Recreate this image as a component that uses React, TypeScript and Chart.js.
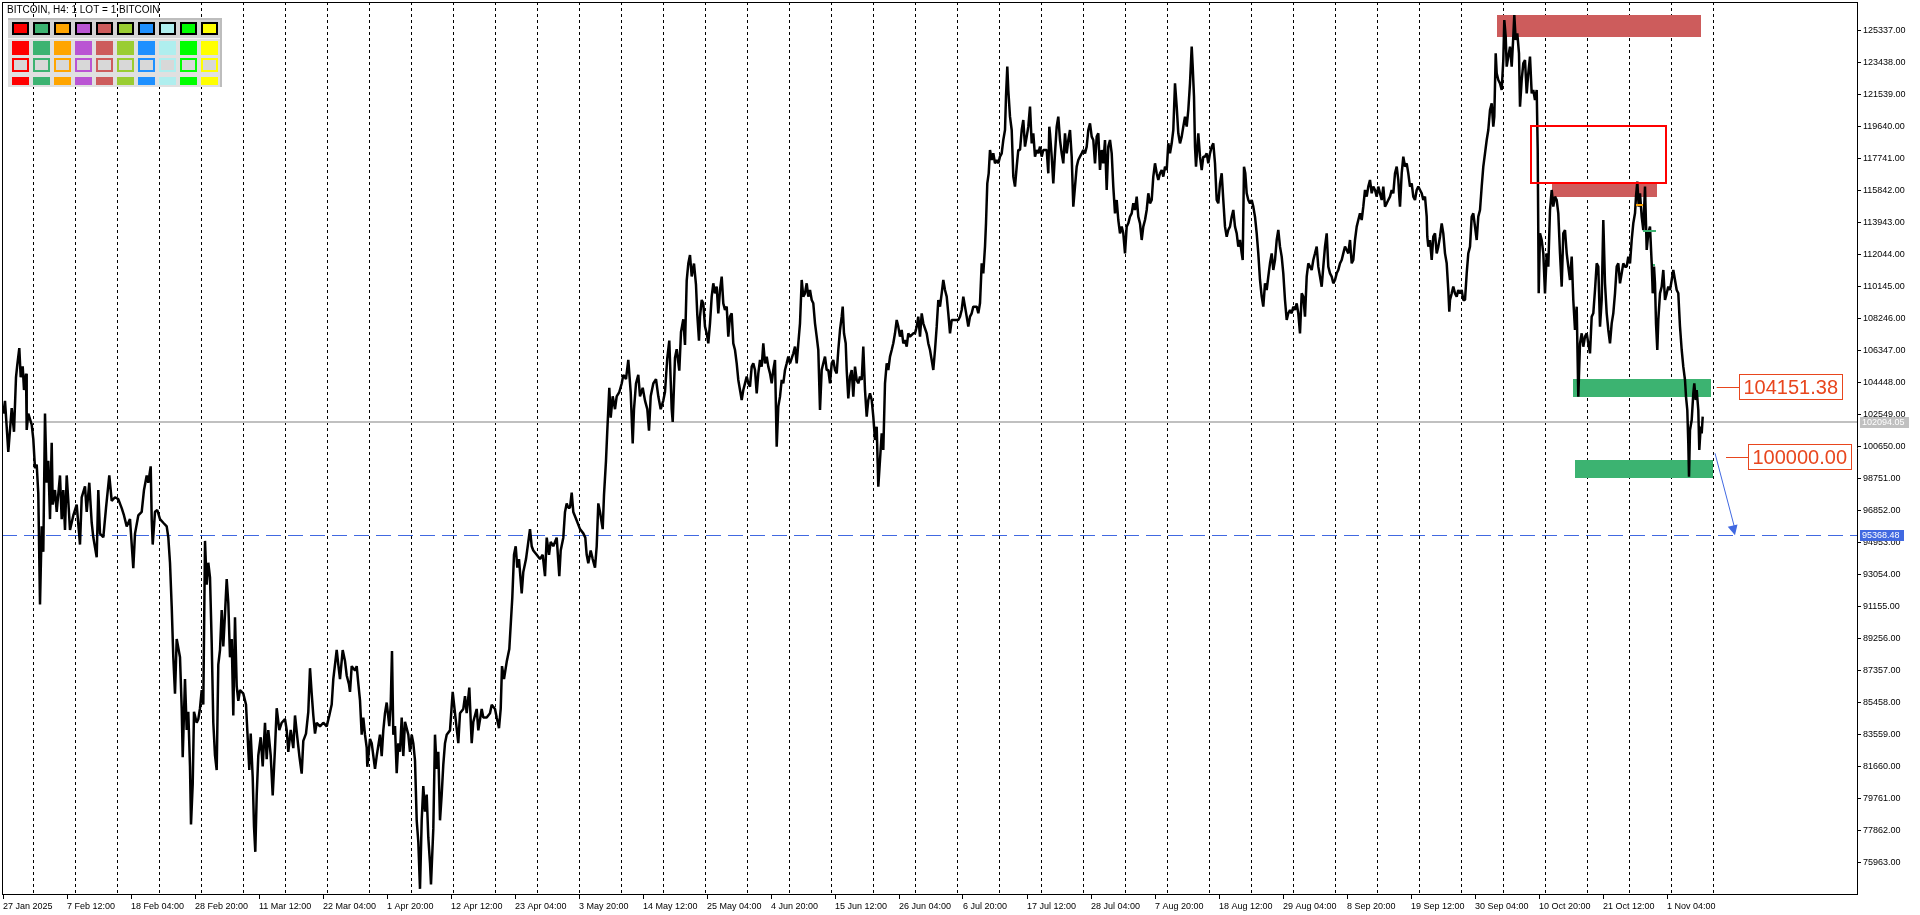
import React, { useEffect, useRef } from 'react';
import { Chart, registerables } from 'chart.js';

Chart.register(...registerables);

// ---- Axis data ----
const xTickBars = [0, 64, 128, 192, 256, 320, 384, 448, 512, 576, 640, 704, 768, 832, 896, 960, 1024, 1088, 1152, 1216, 1280, 1344, 1408, 1472, 1536, 1600, 1664];
const xTickLabels = ['27 Jan 2025', '7 Feb 12:00', '18 Feb 04:00', '28 Feb 20:00', '11 Mar 12:00', '22 Mar 04:00', '1 Apr 20:00', '12 Apr 12:00', '23 Apr 04:00', '3 May 20:00', '14 May 12:00', '25 May 04:00', '4 Jun 20:00', '15 Jun 12:00', '26 Jun 04:00', '6 Jul 20:00', '17 Jul 12:00', '28 Jul 04:00', '7 Aug 20:00', '18 Aug 12:00', '29 Aug 04:00', '8 Sep 20:00', '19 Sep 12:00', '30 Sep 04:00', '10 Oct 20:00', '21 Oct 12:00', '1 Nov 04:00'];
const yTicks = [75963, 77862, 79761, 81660, 83559, 85458, 87357, 89256, 91155, 93054, 94953, 96852, 98751, 100650, 102549, 104448, 106347, 108246, 110145, 112044, 113943, 115842, 117741, 119640, 121539, 123438, 125337];
const weekSeparators = [30.7, 72.7, 114.7, 156.7, 198.7, 240.7, 282.7, 324.7, 366.7, 408.7, 450.7, 492.7, 534.7, 576.7, 618.7, 660.7, 702.7, 744.7, 786.7, 828.7, 870.7, 912.7, 954.7, 996.7, 1038.7, 1080.7, 1122.7, 1164.7, 1206.7, 1248.7, 1290.7, 1332.7, 1374.7, 1416.7, 1458.7, 1500.7, 1542.7, 1584.7, 1626.7, 1668.7, 1710.7];
const xRange = [-1, 1854];
const yRange = [74082, 127016];

// ---- Price path (bar index, price) ----
const pathJanMar: [number, number][] = [[0.3,102589],[2,103344],[5.3,100323],[8.7,102913],[11,101510],[13,104747],[14.3,105502],[16.3,106473],[17.7,104747],[19.7,105394],[21,103991],[23,104962],[23.7,101618],[25.3,102589],[28.7,101941],[30.3,101078],[32,99352],[33.7,99567],[35.3,97841],[37,91259],[38.7,95899],[40.3,94388],[42,102589],[43.7,98488],[45.3,99783],[47,96330],[48.7,100862],[49.7,97194],[52,98057],[53.7,96762],[57,98920],[58.7,96330],[60.3,98057],[62,95683],[63.7,98920],[65.3,97410],[67,95683],[70.3,96546],[73.7,97194],[77,94820],[78.7,97625],[82,98273],[83.7,96762],[86.3,98488],[88.7,96114],[90.3,95251],[93.7,94065],[95.3,98057],[97,95467],[100.3,95251],[103,96978],[106.3,98920],[108.7,97410],[112,97625],[115.3,97517],[118.7,96978],[121,96546],[123.7,95899],[127,96330],[130.3,93417],[132,95467],[135.3,96546],[138.7,96762],[141,98057],[143.7,98920],[145.3,98488],[147.7,99460],[148.7,96330],[149.7,94820],[152,96762],[154.3,96870],[157,96330],[160.3,96114],[163.7,95899],[165.3,95251],[167,93741],[168.7,91151],[170.3,88130],[172,85972],[173.7,89209],[177,88130],[178.7,85109],[179.7,82196],[182,86835],[183.7,83814],[185.3,84893],[187,81656],[188,78203],[189.7,80577],[191,84893],[193.7,84246],[195.3,84461],[197,85109],[198.7,86188],[200.3,85325],[202,95036],[203.7,92446],[205.3,93741],[207,92877],[208.7,88993],[210.3,84246],[212,82303],[213.7,81440],[215.3,87698],[217,88562],[218.7,90935],[220.3,88777],[222,90720],[223.7,92769],[225.3,91366],[227,88130],[228.7,89209],[230.3,84677],[232,90504],[233.7,86404],[235.3,85540],[237,86188],[240.3,85972],[243,85325],[244.3,83814],[246.3,81440],[247.7,83598],[249.7,81008],[251,78095],[252.3,76584],[253.7,79929],[255.3,82303],[257.7,83382],[259.7,81656],[262,84246],[263.7,82087],[265.3,83814],[267.7,82303],[269.7,79929],[272,82735],[273.7,85109],[276.3,83814],[278.7,84246],[282,84461],[283.7,83814],[285.3,82519],[287.7,83814],[290.3,82735],[292,84677],[294.3,83382],[296.3,82303],[298.7,81224],[300.3,83166],[303,83598],[305.3,84893],[307,87483],[308.7,85972],[310.3,84677],[312,83598],[313.7,84246],[317,84030],[320.3,84246],[323.7,84030],[326.3,84677],[328.7,85325],[330.3,86835],[333.7,88562],[335.3,87698],[337,86835],[339.7,88562],[342,87914],[343.7,87051],[346,86511]];

const pathMarJun: [number, number][] = [[347,86079],[348.7,87604],[352,87350],[353.7,87604],[355.3,86588],[357,85571],[358.7,83538],[360.3,84555],[362,83538],[363.7,82775],[364.3,81632],[367,83284],[368.7,83030],[372,81505],[373.7,82267],[377,83538],[378.7,82267],[380.3,83792],[382,84809],[383.7,85444],[386.3,84046],[387.7,85317],[389,88494],[390.3,83538],[392,84046],[393.7,81250],[395.3,83030],[397,82521],[398.7,84555],[400.3,82267],[402,84300],[405.3,83538],[407,82521],[408.7,83538],[410.3,83030],[412,82013],[413.7,78455],[415.3,77184],[417,74388],[418.7,78455],[420.3,80488],[422,78963],[423.7,79980],[425.3,77438],[427,75913],[428,74643],[430.3,77946],[432,83538],[433.7,81505],[435.3,82521],[437,78455],[438.7,79980],[440.3,81759],[442,83030],[443.7,83538],[447,83792],[449.7,86079],[452,84809],[455.3,83030],[457,84809],[460.3,85063],[462,85825],[463.7,84809],[466.3,86333],[468.7,83030],[470.3,84300],[473.7,85063],[475.3,83792],[478.7,85063],[480.3,84555],[483.7,84555],[487,84809],[488.7,85317],[492,85063],[493.7,84555],[496,83919],[497.7,85063],[499,87604],[501,86842],[503.7,87858],[506.3,88621],[508.3,90654],[509.3,91671],[511,94212],[512.7,94720],[514.3,93450],[516,93958],[518.7,91925],[520.3,93195],[523,93958],[525.3,94975],[527,95737],[528.7,94720],[530.3,94466],[533.7,94212],[537,93958],[539.7,94212],[542,92941],[543.7,95229],[546,94212],[547.7,94975],[550.3,94720],[553.7,95229],[556.3,92941],[557.7,94466],[560.3,95229],[562,96754],[563.7,97262],[565.3,97008],[567,97008],[568.7,97897],[570.3,96754],[573.7,96245],[577,95737],[580.3,95483],[582.3,95229],[583.7,94212],[585.3,93704],[587.7,94466],[589.7,93958],[592,93450],[593.7,94720],[595.3,97262],[597,96754],[599.7,95737],[601,97770],[603,99803],[604.3,101582],[606.3,104124],[607.7,102345],[609.7,103616],[612,102853],[613.7,103616],[616.3,103870],[618.7,104378],[620.3,104886],[623,104632],[625.3,105776],[627.7,103870],[629.7,100820],[631,102853],[633,104378],[635.3,104886],[637,103616],[639.7,104124],[642,103361],[644.3,102853],[646,101582],[647.7,103616],[650.3,104378],[653,104632],[655.3,103616],[657.7,102853],[660.3,103361],[662,103870],[664.3,105903],[666.3,106920],[668.7,102853],[669.7,102091],[672,105903],[673.7,106411],[676.3,105141],[678,107428],[680.3,108190],[682,106665],[683.7,110478],[685.3,111495],[687,112003],[688.7,110731],[691,111495],[693,110224],[694.3,108444],[696,106920]];

const pathJunAug: [number, number][] = [[697,108343],[698.7,109332],[700.3,109134],[702,107750],[703.7,107354],[705.3,106761],[707,107948],[708.7,109530],[710.3,110321],[712,109728],[713.7,110124],[715.3,108541],[717,109926],[718.7,110717],[720.3,109134],[722,108739],[723.7,108937],[725.3,107156],[727,108343],[728.7,108541],[730.3,106761],[732,106365],[733.7,105574],[735.3,104585],[737,103992],[738.7,103398],[740.3,103992],[742,104387],[743.7,104783],[745.3,104387],[747,104189],[748.7,105376],[750.3,105574],[752,105178],[753.7,103794],[755.3,104980],[757,105772],[758.7,105376],[760.3,106761],[762,105574],[763.7,105970],[765.3,105376],[767,104980],[768.7,104387],[770.3,105178],[772,105772],[773.7,100629],[775.3,103002],[777,103596],[778.7,104585],[780.3,104387],[782,105178],[783.7,105574],[785.3,105970],[787,105574],[790.3,106167],[792,106563],[793.7,105574],[795.3,106761],[797,107948],[798.7,110519],[800.3,109530],[802,109728],[803.7,110321],[805.3,109530],[807,109926],[808.7,109332],[810.3,109134],[812,107948],[813.7,107156],[815.3,106365],[817,102804],[818.7,105178],[820.3,105574],[822,105970],[823.7,105178],[825.3,105178],[827,104387],[828.7,105574],[830.3,105772],[832,105178],[833.7,104980],[835.3,106365],[837,107552],[838.7,108343],[839.7,108937],[841,107354],[842.7,106761],[843.7,105178],[845.3,103497],[847,104783],[848.7,105178],[850.3,103596],[852,105376],[853.7,104585],[855.3,104387],[857,104783],[858.7,104585],[860.3,106563],[862,103992],[863.7,102409],[865.3,103398],[867,103794],[868.7,103398],[870.3,102409],[872,101024],[873.7,101815],[875.3,98255],[877,99838],[878.7,101420],[880.3,100431],[882,104387],[883.7,105574],[885.3,105178],[887,105970],[888.7,106365],[890.3,106761],[892,107354],[893.7,108145],[895.3,107750],[897,107156],[898.7,107552],[900.3,106761],[902,106959],[903.7,106563],[905.3,107354],[907,107156],[910.3,107354],[912,107354],[913.7,107750],[915.3,108343],[917,107156],[918.7,108541],[920.3,107948],[923.7,107354],[925.3,106761],[927,106365],[928.7,105772],[930.3,105178],[932,106365],[933.7,107750],[935.3,109332],[937,108937],[938.7,109728],[940.3,110519],[942,109926],[943.7,109530],[945.3,108541],[947,107354],[948.7,108145],[952,108145],[955.3,108145],[957,108343],[958.7,108739],[960.3,109530],[962,108937],[963.7,108343],[965.3,107750],[967,108343],[968.7,108541],[970.3,108937],[973.7,108937],[975.3,108541],[977,109134],[978.7,111508],[980.3,110915],[982,112497],[983,113882],[984.3,116256],[985.7,116849],[987,118234],[988.7,117640],[990.3,118036],[992,117442],[993.7,117640],[995.3,117442],[997,117838],[998.7,118036],[1000.3,118827],[1002,119421],[1003,121399],[1004.3,123179],[1005.3,121794],[1007,120212],[1008.7,119421],[1010.3,116651],[1012,116058],[1013.7,117245],[1015.3,118234],[1017,118234],[1018.7,119421],[1020.3,120014],[1022,118433],[1023.7,119025],[1025.3,119618],[1027,120805],[1028.7,118629],[1030.3,119223],[1032,117838],[1033.7,118234],[1035.3,118036],[1037,118433],[1038.7,117838],[1040.3,118234],[1043.7,118234],[1045.3,116849],[1046.3,119618]];

const pathAugOct: [number, number][] = [[1047,119223],[1048.7,117838],[1050.3,116255],[1052,118036],[1053.7,119618],[1055.3,120212],[1057,118827],[1058.7,118036],[1060.3,117442],[1062,119223],[1063.7,118036],[1065.3,118827],[1067,119420],[1068.7,117838],[1070.3,114871],[1072,116058],[1073.7,117245],[1075.3,117640],[1077,117838],[1078.7,118036],[1080.3,118234],[1082,118036],[1083.7,118431],[1085.3,119420],[1087,119816],[1088.7,119025],[1090.3,118827],[1092,117442],[1093.7,119025],[1095.3,119223],[1097,117047],[1098.7,118234],[1100.3,117442],[1102,118827],[1103.7,115860],[1105.3,118431],[1107,118827],[1108.7,118036],[1110.3,116058],[1112,114475],[1113.7,115266],[1115.3,114080],[1117,113288],[1118.7,113684],[1120.3,113288],[1122,112099],[1123.7,113684],[1125.3,113882],[1127,114277],[1128.7,114475],[1130.3,115069],[1132,114673],[1133.7,115464],[1135.3,114277],[1137,113882],[1138.7,112893],[1140.3,113684],[1142,114080],[1143.7,114673],[1145.3,115662],[1147,115069],[1148.7,115266],[1150.3,116651],[1152,117442],[1153.7,116849],[1155.3,116453],[1157,116849],[1158.7,117047],[1160.3,116651],[1162,117245],[1163.7,117047],[1165.3,118629],[1167,118036],[1168.7,118629],[1170.3,119420],[1172,122190],[1173.7,120805],[1175.3,119223],[1177,118629],[1178.7,119025],[1180.3,119618],[1182,120212],[1183.7,119618],[1185.3,120607],[1187,122190],[1188.7,124366],[1189.7,123179],[1191,121400],[1192,118431],[1193,117245],[1195.3,119223],[1197,117838],[1198.7,117047],[1200.3,117838],[1202,117838],[1203.7,118036],[1205.3,117442],[1207,118036],[1208.7,118431],[1210.3,118629],[1212,117442],[1213.7,115266],[1215.3,115069],[1217,116255],[1218.7,116849],[1220.3,115266],[1222,113684],[1223.7,113090],[1225.3,113486],[1227,113684],[1228.7,114277],[1230.3,114673],[1232,113684],[1233.7,113288],[1235.3,112497],[1237,112893],[1238.7,112099],[1239.7,111706],[1241,117245],[1242.3,116849],[1243.7,115662],[1245.3,115266],[1247,115069],[1248.7,115266],[1250.3,114871],[1252,114277],[1253.7,113288],[1255.3,112099],[1257,110519],[1258.7,109530],[1260.3,108936],[1262,110321],[1263.7,109925],[1265.3,110717],[1267,111508],[1268.7,112099],[1270.3,111113],[1272,111706],[1273.7,112893],[1275.3,113486],[1277,112497],[1278.7,111904],[1280.3,110915],[1282,109332],[1283.7,108145],[1285.3,108541],[1287,108738],[1288.7,108541],[1290.3,108936],[1292,108738],[1293.7,109134],[1295.3,108541],[1297,107354],[1298.7,109728],[1300.3,109530],[1302,108343],[1303.7,110717],[1305.3,111508],[1307,111310],[1308.7,111113],[1310.3,111706],[1312,112099],[1313.7,112497],[1315.3,111310],[1317,110717],[1318.7,110123],[1320.3,111310],[1322,112497],[1323.7,113288],[1325.3,111310],[1327,110915],[1328.7,110717],[1330.3,110321],[1332,110519],[1333.7,110915],[1335.3,111113],[1337,111508],[1338.7,111706],[1340.3,112099],[1342,112497],[1343.7,112299],[1345.3,112099],[1347,112893],[1348.7,111508],[1350.3,111706],[1352,112893],[1353.7,113684],[1355.3,114080],[1357,114475],[1358.7,114080],[1360.3,114871],[1362,115860],[1363.7,115464],[1365.3,116058],[1367,116453],[1368.7,115662],[1370.3,116058],[1372,115860],[1373.7,115464],[1375.3,116058],[1377,115662],[1378.7,115266],[1380.3,116058],[1382,114871],[1383.7,115069],[1385.3,115266],[1387,115464],[1388.7,115860],[1390.3,115662],[1392,116849],[1393.7,117245],[1395.3,116453],[1396.3,115464]];

const pathOctNov: [number, number][] = [[1397,114871],[1398.7,116849],[1400.3,117838],[1402,117245],[1403.7,117442],[1405.3,116849],[1407,116058],[1408.7,116255],[1410.3,115464],[1412,115266],[1413.7,115860],[1415.3,116058],[1417,115860],[1418.7,115662],[1420.3,115266],[1422,115464],[1423.7,114277],[1424.3,113090],[1425.3,112497],[1427,112893],[1428.7,111706],[1430.3,113090],[1432,113288],[1433.7,112101],[1435.3,112497],[1437,113090],[1438.7,113882],[1440.3,113288],[1442,112101],[1443.7,111508],[1445.3,109925],[1446.3,108639],[1447,109332],[1448.7,109728],[1450.3,110123],[1452,109728],[1453.7,109530],[1455.3,109925],[1457,109728],[1458.7,109925],[1460.3,109332],[1462,109332],[1463.7,110915],[1465.3,112101],[1467,112497],[1468.7,114277],[1470.3,114475],[1472,113684],[1473.7,112893],[1475.3,114277],[1477,114673],[1478.7,116058],[1480.3,117245],[1482,118036],[1483.7,118827],[1485.3,119420],[1487,120607],[1488.7,121003],[1490.3,119618],[1491.3,120212],[1492.7,123970],[1493.7,122783],[1495.3,122388],[1497,122190],[1498.7,121794],[1500.3,123574],[1501.3,125948],[1502.7,124959],[1503.7,123179],[1505.3,123772],[1507,124366],[1508.7,123179],[1510.3,124959],[1511.3,126245],[1512.7,124761],[1514.3,125157],[1516,123970],[1517,120805],[1518.7,122388],[1520.3,123377],[1522,123574],[1523.7,121596],[1525.3,122783],[1527,123772],[1528.7,121596],[1530.3,121794],[1532,121201],[1533.7,121794],[1534.7,118234],[1535.7,109728],[1537,113288],[1538.7,112893],[1540.3,112101],[1542,109728],[1543.7,112101],[1545.3,111310],[1547,114673],[1548.7,115860],[1550.3,114871],[1552,115464],[1553.7,115266],[1555.3,114475],[1557,112101],[1558.7,110123],[1560.3,113288],[1562,113486],[1563.7,112101],[1565.3,111310],[1567,110519],[1568.7,111904],[1570.3,109332],[1572,107552],[1573.7,108936],[1575.3,103596],[1577,106760],[1578.7,107354],[1580.3,106562],[1582,107157],[1583.7,107354],[1585.3,106760],[1587,106167],[1588.7,108343],[1590.3,108541],[1592,109925],[1593.7,111508],[1595.3,111310],[1597,107749],[1598.7,109332],[1600.3,114080],[1602,110321],[1603.7,108541],[1605.3,107552],[1607,106760],[1608.7,107947],[1610.3,108541],[1612,109728],[1613.7,111310],[1615.3,111508],[1617,110321],[1618.7,110915],[1620.3,111508],[1622,111310],[1623.7,111310],[1625.3,111904],[1627,111508],[1628.7,112893],[1630.3,113882],[1632,114475],[1633,115464],[1634.3,116354],[1635.7,114871],[1637,115662],[1638.7,114277],[1640.3,113486],[1642,116058],[1643.7,112299],[1645.3,113288],[1647,113684],[1648.7,111508],[1649.7,109728],[1651,111310],[1652,110321],[1653,107947],[1654.3,106365],[1655.3,108145],[1657,109728],[1658.7,110123],[1660.3,111113],[1662,109332],[1663.7,109728],[1665.3,110123],[1667,109925],[1668.7,110519],[1670.3,111113],[1672,110519],[1673.7,109925],[1675.3,109728],[1677,107749],[1678.7,106365],[1680.3,105375],[1682,104584],[1683,103596],[1684.3,102804],[1685.3,100826],[1686,98847],[1687,101617],[1688.7,102210],[1690.3,103793],[1691.3,104386],[1692.7,103397],[1693.7,103991],[1695.3,102804],[1696.3,100430],[1697.7,101815],[1698.7,101419],[1699.7,102408]];

// ---- Levels & zones (bar index / price) ----
const bidPrice = 102094.05;
const targetPrice = 95368.48;
const supplyZones = [
  { from: 1494, to: 1698, low: 124957, high: 126245 },
  { from: 1548.7, to: 1654, low: 115462, high: 116216 },
];
const demandZones = [
  { from: 1570, to: 1708, low: 103594, high: 104644 },
  { from: 1572, to: 1710.3, low: 98787, high: 99837 },
];
const gapBox = { from: 1527.3, to: 1664.3, low: 116234, high: 119717 };
const levelLabels = [
  { price: 104151.38, text: '104151.38', lineFrom: 1713.7, boxAt: 1736.3 },
  { price: 100000.0, text: '100000.00', lineFrom: 1723, boxAt: 1745.3 },
];
const projection = { fromBar: 1712, fromPrice: 100235, toBar: 1732, toPrice: 95368.48 };
const shortMarks = [
  { from: 1633, to: 1640, price: 114988, color: '#FFA500' },
  { from: 1639.7, to: 1653, price: 113444, color: '#3CB371' },
  { from: 1650, to: 1652, price: 111410, color: '#3CB371' },
];
const paletteColors = ['#FF0000', '#3CB371', '#FFA500', '#BA55D3', '#CD5C5C', '#9ACD32', '#1E90FF', '#AFEEEE', '#00FF00', '#FFFF00'];
const titleText = 'BITCOIN, H4: 1 LOT = 1 BITCOIN';

const FONT = "'Liberation Sans', Arial, sans-serif";
const LABEL_RED = '#E8461E';

const overlayPlugin = {
  id: 'mtOverlay',
  beforeDatasetsDraw(chart: any) {
    const { ctx, chartArea: a, scales } = chart;
    const x = scales.x, y = scales.y;
    ctx.save();
    ctx.strokeStyle = '#000';
    ctx.lineWidth = 1;
    ctx.setLineDash([3, 3]);
    for (const b of weekSeparators) {
      const px = Math.floor(x.getPixelForValue(b)) + 0.5;
      ctx.beginPath();
      ctx.moveTo(px, a.top);
      ctx.lineTo(px, a.bottom);
      ctx.stroke();
    }
    ctx.setLineDash([]);
    const by = Math.round(y.getPixelForValue(bidPrice));
    ctx.fillStyle = '#C0C0C0';
    ctx.fillRect(a.left, by - 1, a.right - a.left, 2);
    const ty = Math.round(y.getPixelForValue(targetPrice)) + 0.5;
    ctx.strokeStyle = '#4169E1';
    ctx.setLineDash([15, 7]);
    ctx.beginPath();
    ctx.moveTo(a.left, ty);
    ctx.lineTo(a.right, ty);
    ctx.stroke();
    ctx.setLineDash([]);
    const fillZone = (z: any, color: string) => {
      const x0 = x.getPixelForValue(z.from), x1 = x.getPixelForValue(z.to);
      const y0 = y.getPixelForValue(z.high), y1 = y.getPixelForValue(z.low);
      ctx.fillStyle = color;
      ctx.fillRect(Math.round(x0), Math.round(y0), Math.round(x1 - x0), Math.round(y1 - y0));
    };
    supplyZones.forEach((z) => fillZone(z, '#CD5C5C'));
    demandZones.forEach((z) => fillZone(z, '#3CB371'));
    ctx.restore();
  },
  afterDatasetsDraw(chart: any) {
    const { ctx, scales } = chart;
    const x = scales.x, y = scales.y;
    ctx.save();
    {
      const x0 = x.getPixelForValue(gapBox.from), x1 = x.getPixelForValue(gapBox.to);
      const y0 = y.getPixelForValue(gapBox.high), y1 = y.getPixelForValue(gapBox.low);
      ctx.strokeStyle = '#FF0000';
      ctx.lineWidth = 2;
      ctx.strokeRect(Math.round(x0) + 1, Math.round(y0) + 1, Math.round(x1 - x0) - 2, Math.round(y1 - y0) - 2);
    }
    for (const m of shortMarks) {
      const x0 = x.getPixelForValue(m.from), x1 = x.getPixelForValue(m.to);
      const yy = Math.round(y.getPixelForValue(m.price));
      ctx.fillStyle = m.color;
      ctx.fillRect(Math.round(x0), yy - 1, Math.max(2, Math.round(x1 - x0)), 2);
    }
    ctx.font = `20px ${FONT}`;
    ctx.textBaseline = 'middle';
    ctx.textAlign = 'left';
    for (const l of levelLabels) {
      const yy = Math.round(y.getPixelForValue(l.price)) + 0.5;
      const lx0 = x.getPixelForValue(l.lineFrom);
      const bx = Math.round(x.getPixelForValue(l.boxAt)) + 0.5;
      ctx.strokeStyle = LABEL_RED;
      ctx.lineWidth = 1;
      ctx.beginPath();
      ctx.moveTo(lx0, yy);
      ctx.lineTo(bx, yy);
      ctx.stroke();
      const tw = ctx.measureText(l.text).width;
      const bw = Math.round(tw + 8);
      ctx.fillStyle = '#FFFFFF';
      ctx.fillRect(bx, yy - 13, bw, 25);
      ctx.strokeRect(bx, yy - 13, bw, 25);
      ctx.fillStyle = LABEL_RED;
      ctx.fillText(l.text, bx + 4, yy + 1);
    }
    {
      const x0 = x.getPixelForValue(projection.fromBar), y0 = y.getPixelForValue(projection.fromPrice);
      const x1 = x.getPixelForValue(projection.toBar), y1 = y.getPixelForValue(projection.toPrice);
      ctx.strokeStyle = '#4169E1';
      ctx.lineWidth = 1;
      ctx.beginPath();
      ctx.moveTo(x0, y0);
      ctx.lineTo(x1, y1 - 6);
      ctx.stroke();
      const ang = Math.atan2(y1 - y0, x1 - x0);
      const len = 10, half = 5;
      const bxp = x1 - len * Math.cos(ang), byp = y1 - len * Math.sin(ang);
      ctx.fillStyle = '#4169E1';
      ctx.beginPath();
      ctx.moveTo(x1, y1);
      ctx.lineTo(bxp + half * Math.sin(ang), byp - half * Math.cos(ang));
      ctx.lineTo(bxp - half * Math.sin(ang), byp + half * Math.cos(ang));
      ctx.closePath();
      ctx.fill();
    }
    ctx.restore();
  },
  afterDraw(chart: any) {
    const { ctx, chartArea: a, scales } = chart;
    const y = scales.y;
    ctx.save();
    ctx.fillStyle = '#000';
    ctx.fillRect(a.left, a.top, a.right - a.left, 1);
    ctx.fillRect(a.left, a.top, 1, a.bottom - a.top);
    ctx.font = `9px ${FONT}`;
    ctx.textBaseline = 'middle';
    ctx.textAlign = 'left';
    const tag = (price: number, text: string, bg: string) => {
      const yy = Math.round(y.getPixelForValue(price));
      const tw = ctx.measureText(text).width;
      ctx.fillStyle = bg;
      ctx.fillRect(a.right + 3, yy - 5, Math.round(tw + 6), 11);
      ctx.fillStyle = '#FFFFFF';
      ctx.fillText(text, a.right + 5, yy + 0.5);
    };
    tag(bidPrice, bidPrice.toFixed(2), '#C0C0C0');
    tag(targetPrice, targetPrice.toFixed(2), '#4169E1');
    ctx.font = `10px ${FONT}`;
    ctx.fillStyle = '#000';
    ctx.fillText(titleText, 7, 10);
    const px0 = 8, py0 = 18, pw = 214, ph = 69;
    ctx.fillStyle = '#E0E0E0';
    ctx.fillRect(px0, py0, pw, ph);
    ctx.fillStyle = '#BDBDBD';
    ctx.fillRect(px0, py0, pw, 2);
    ctx.fillRect(px0 + pw - 2, py0, 2, ph);
    ctx.fillStyle = '#D4D4D4';
    ctx.fillRect(px0, py0 + 2, pw - 2, 18);
    ctx.fillStyle = '#F4F4F4';
    ctx.fillRect(px0, py0 + 20, pw - 2, 1);
    paletteColors.forEach((c, i) => {
      const cx = 12 + 21 * i;
      ctx.fillStyle = '#000';
      ctx.fillRect(cx, 22, 17, 13);
      ctx.fillStyle = c;
      ctx.fillRect(cx + 2, 24, 13, 9);
      ctx.fillRect(cx, 41, 17, 14);
      ctx.fillStyle = c;
      ctx.fillRect(cx, 58, 17, 14);
      ctx.fillStyle = '#D8D8D8';
      ctx.fillRect(cx + 2, 60, 13, 10);
      ctx.fillStyle = c;
      ctx.fillRect(cx, 77, 17, 8);
    });
    ctx.restore();
  },
};

export default function App() {
  const canvasRef = useRef<HTMLCanvasElement | null>(null);

  useEffect(() => {
    const canvas = canvasRef.current;
    if (!canvas) return;
    const pricePoints = [...pathJanMar, ...pathMarJun, ...pathJunAug, ...pathAugOct, ...pathOctNov].map(([b, p]) => ({ x: b, y: p }));
    const chart = new Chart(canvas, {
      type: 'line',
      data: {
        datasets: [
          {
            label: 'BITCOIN',
            data: pricePoints,
            borderColor: '#000000',
            borderWidth: 2.5,
            pointRadius: 0,
            tension: 0,
            borderJoinStyle: 'bevel',
            fill: false,
          },
        ],
      },
      options: {
        responsive: false,
        animation: false,
        devicePixelRatio: 1,
        layout: { padding: { left: 2, top: 2, right: 0, bottom: 0 } },
        plugins: { legend: { display: false }, tooltip: { enabled: false } },
        scales: {
          x: {
            type: 'linear',
            position: 'bottom',
            min: xRange[0],
            max: xRange[1],
            afterBuildTicks: (s: any) => {
              s.ticks = xTickBars.map((v) => ({ value: v }));
            },
            afterFit: (s: any) => {
              s.height = 21;
              s.paddingLeft = 0;
              s.paddingRight = 0;
            },
            ticks: {
              autoSkip: false,
              maxRotation: 0,
              minRotation: 0,
              align: 'start',
              padding: 2,
              color: '#000',
              font: { family: FONT, size: 9 },
              callback: (v: any) => {
                const i = xTickBars.indexOf(Number(v));
                return i >= 0 ? xTickLabels[i] : '';
              },
            },
            grid: { drawOnChartArea: false, drawTicks: true, tickLength: 5, color: '#000', tickColor: '#000' },
            border: { display: true, color: '#000', width: 1 },
          },
          y: {
            type: 'linear',
            position: 'right',
            min: yRange[0],
            max: yRange[1],
            afterBuildTicks: (s: any) => {
              s.ticks = yTicks.map((v) => ({ value: v }));
            },
            afterFit: (s: any) => {
              s.width = 63;
              s.paddingTop = 0;
              s.paddingBottom = 0;
            },
            ticks: {
              padding: 2,
              color: '#000',
              font: { family: FONT, size: 9 },
              callback: (v: any) => Number(v).toFixed(2),
            },
            grid: { drawOnChartArea: false, drawTicks: true, tickLength: 4, color: '#000', tickColor: '#000' },
            border: { display: true, color: '#000', width: 1 },
          },
        },
      },
      plugins: [overlayPlugin],
    } as any);
    return () => chart.destroy();
  }, []);

  return (
    <div style={{ position: 'absolute', left: 0, top: 0, width: 1920, height: 915, background: '#ffffff' }}>
      <canvas ref={canvasRef} width={1920} height={915} style={{ display: 'block', width: 1920, height: 915 }} />
    </div>
  );
}
